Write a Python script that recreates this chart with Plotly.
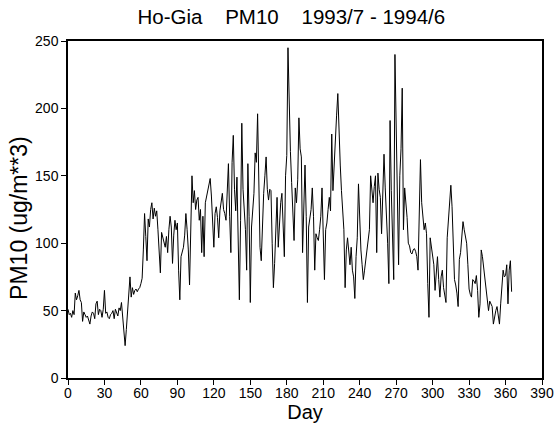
import plotly.graph_objects as go

# Daily PM10 (ug/m**3), day 0 .. 365
days_0_59 = [51, 47, 48, 45, 50, 47, 63, 58, 61, 65,
             58, 56, 42, 49, 47, 45, 46, 43, 40, 46,
             49, 48, 44, 55, 57, 47, 51, 50, 45, 51,
             65, 48, 49, 45, 44, 47, 48, 50, 44, 51,
             49, 46, 52, 50, 56, 45, 31, 24, 36, 50,
             58, 75, 60, 67, 62, 65, 66, 64, 66, 67]
days_60_119 = [70, 74, 95, 122, 105, 87, 118, 112, 125, 130,
               118, 126, 120, 124, 110, 96, 78, 108, 104, 100,
               97, 105, 93, 110, 120, 112, 85, 106, 117, 110,
               115, 80, 58, 90, 95, 97, 106, 122, 110, 95,
               69, 115, 150, 130, 139, 125, 132, 134, 117, 125,
               93, 120, 90, 130, 135, 140, 143, 148, 135, 120]
days_120_179 = [97, 122, 127, 119, 104, 124, 130, 137, 125, 122,
                117, 140, 159, 120, 93, 160, 180, 140, 124, 149,
                110, 58, 117, 189, 140, 124, 110, 80, 159, 120,
                56, 112, 125, 137, 167, 160, 196, 150, 97, 87,
                120, 137, 150, 164, 140, 132, 140, 139, 100, 67,
                85, 120, 134, 97, 115, 130, 137, 110, 90, 150]
days_180_239 = [165, 245, 190, 168, 145, 127, 102, 141, 130, 147,
                193, 170, 164, 93, 130, 158, 120, 56, 112, 119,
                125, 141, 120, 80, 107, 104, 102, 110, 120, 141,
                100, 73, 110, 115, 125, 134, 124, 181, 139, 160,
                183, 195, 211, 175, 158, 139, 125, 110, 67, 95,
                104, 90, 84, 97, 80, 75, 59, 90, 104, 144]
days_240_299 = [115, 95, 84, 73, 80, 88, 97, 104, 110, 150,
                140, 130, 142, 150, 93, 152, 140, 134, 107, 140,
                166, 141, 125, 100, 70, 191, 139, 100, 73, 240,
                180, 130, 84, 150, 170, 215, 110, 141, 130, 119,
                100, 98, 93, 92, 95, 96, 94, 90, 80, 125,
                162, 130, 120, 110, 115, 107, 70, 45, 104, 97]
days_300_365 = [90, 84, 65, 80, 90, 73, 60, 75, 80, 67,
                60, 56, 104, 119, 135, 143, 127, 90, 73, 69,
                63, 53, 88, 93, 105, 116, 110, 105, 100, 84,
                66, 62, 60, 73, 72, 70, 76, 65, 45, 55,
                95, 90, 81, 73, 65, 55, 50, 57, 55, 53,
                40, 47, 50, 53, 45, 40, 55, 66, 80, 75,
                76, 84, 55, 80, 87, 64]

pm10 = days_0_59 + days_60_119 + days_120_179 + days_180_239 + days_240_299 + days_300_365
days = list(range(len(pm10)))

x_ticks = list(range(0, 391, 30))
y_ticks = list(range(0, 251, 50))

title_text = "Ho-Gia\u00a0\u00a0\u00a0\u00a0PM10\u00a0\u00a0\u00a0\u00a01993/7 - 1994/6"
x_title = "Day"
y_title = "PM10 (ug/m**3)"

fig = go.Figure(go.Scatter(x=days, y=pm10, mode="lines",
                           line=dict(color="black", width=1)))

font = "Liberation Sans, Arial, Helvetica, sans-serif"
fig.update_layout(
    width=557, height=430,
    margin=dict(l=68, r=15, t=41, b=52, autoexpand=False),
    paper_bgcolor="white", plot_bgcolor="white",
    showlegend=False,
    font=dict(family=font, color="black", size=14),
    title=dict(text=title_text,
               x=0.523, xanchor="center", xref="container",
               y=0.96, yanchor="middle", yref="container",
               font=dict(size=20.5, family=font, color="black")),
    annotations=[dict(text=y_title, textangle=-90, showarrow=False,
                      xref="paper", yref="paper", x=-0.1034, y=0.475,
                      xanchor="center", yanchor="middle",
                      font=dict(size=23, family=font, color="black"))],
)
fig.update_xaxes(range=[0, 390], tickvals=x_ticks, ticktext=[str(v) for v in x_ticks],
                 showgrid=False, zeroline=False, showline=True, linecolor="black",
                 linewidth=1.5, mirror=True, ticks="outside", ticklen=5,
                 tickcolor="black", tickfont=dict(size=14), automargin=False,
                 ticklabelstandoff=-4,
                 title=dict(text=x_title, font=dict(size=20), standoff=4))
fig.update_yaxes(range=[0, 250], tickvals=y_ticks, ticktext=[str(v) for v in y_ticks],
                 showgrid=False, zeroline=False, showline=True, linecolor="black",
                 linewidth=1.5, mirror=True, ticks="outside", ticklen=5,
                 tickcolor="black", tickfont=dict(size=14), automargin=False)

# remove the default 8px page margin so the figure fills the window exactly
fig.write_html("out.html", config={"displayModeBar": False},
               post_script="document.body.style.margin='0';")
